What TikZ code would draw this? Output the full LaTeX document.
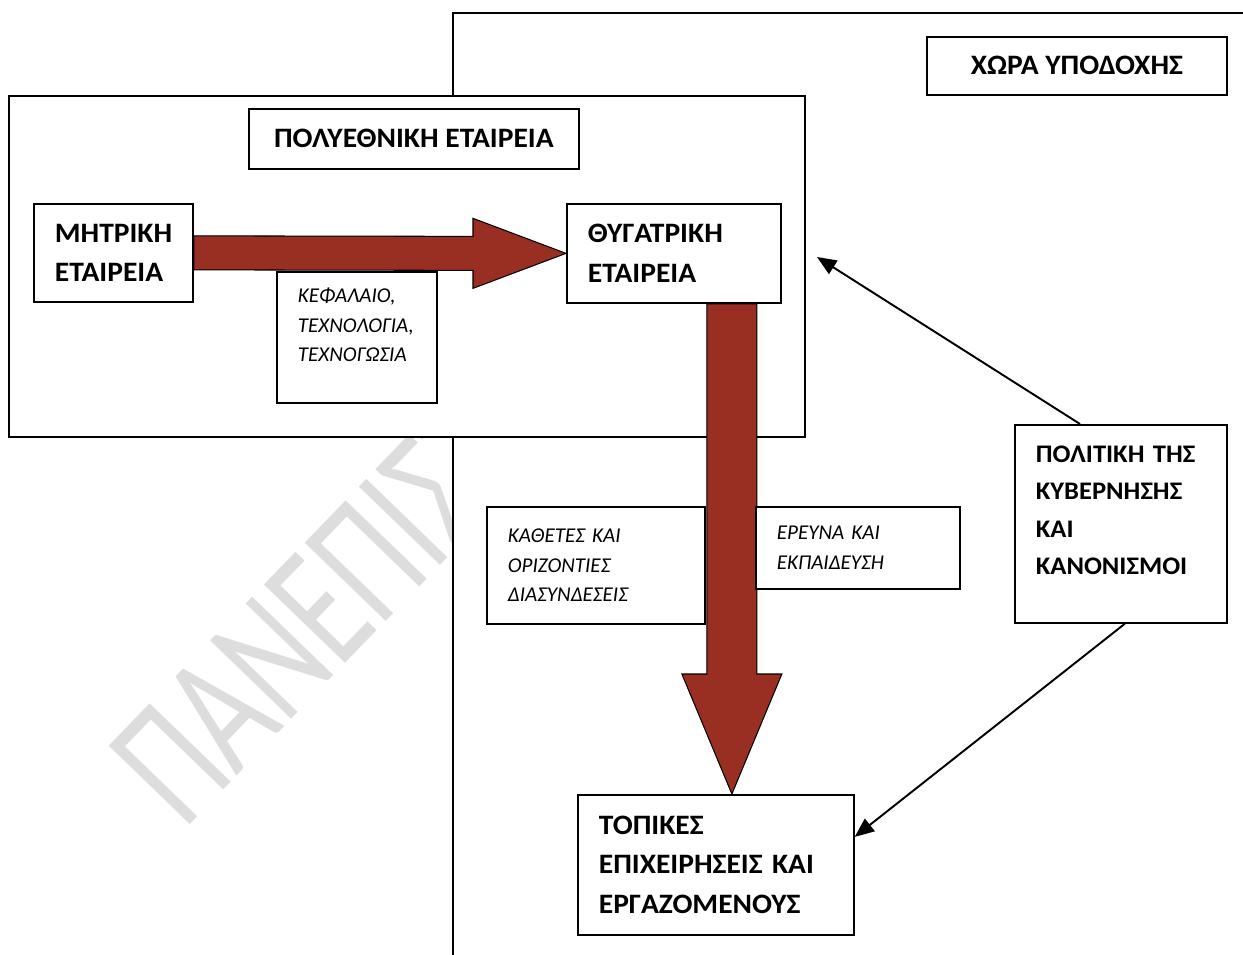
\documentclass[tikz,border=0pt]{standalone}
\usepackage{fontspec}
\setmainfont{Carlito}[BoldFeatures={FakeStretch=1.05}]
\usetikzlibrary{arrows.meta,calc}
\definecolor{arrowred}{RGB}{153,46,34}
\definecolor{watermark}{RGB}{221,221,221}

\begin{document}
\begin{tikzpicture}[
    x=0.02cm, y=-0.02cm,
    frame/.style={draw, line width=1pt, fill=white, anchor=north west, inner sep=0pt},
    box/.style={draw, line width=1pt, fill=white, anchor=north west, inner xsep=0.42cm,
      inner ysep=0pt, font=\bfseries\fontsize{16}{22.6}\selectfont},
    title/.style={box},
    note/.style={box, font=\itshape\fontsize{12}{16.7}\selectfont},
    bigarrow/.style={draw=black, line width=0.6pt, fill=arrowred, line join=miter},
    thinarrow/.style={-{Triangle[length=11pt,width=9pt]}, line width=1.1pt}
  ]
  \useasboundingbox (0,0) rectangle (1243,955);

  % Watermark
  \node[anchor=base west, inner sep=0pt, rotate=46, yscale=1.45, text=watermark,
    font=\fontsize{69}{69}\selectfont] (mark) at (184,831) {ΠΑΝΕΠΙΣΤΗΜΙΟ};

  % Frames
  \node[frame, minimum width=17cm, minimum height=19.5cm] (host) at (452,12) {};
  \node[frame, minimum width=15.92cm, minimum height=6.82cm] (mnc) at (8,95) {};

  % Titles
  \node[title, minimum width=6.6cm, minimum height=1.2cm] (mnctitle) at (248,108) {ΠΟΛΥΕΘΝΙΚΗ ΕΤΑΙΡΕΙΑ};
  \node[title, minimum width=6cm, minimum height=1.16cm] (hosttitle) at (926,36) {ΧΩΡΑ ΥΠΟΔΟΧΗΣ};

  % Companies
  \node[box, text width=2.34cm, minimum height=1.96cm] (parent) at (33,203) {ΜΗΤΡΙΚΗ\\ΕΤΑΙΡΕΙΑ};
  \node[box, text width=3.44cm, minimum height=1.98cm] (daughter) at (566,203) {ΘΥΓΑΤΡΙΚΗ\\ΕΤΑΙΡΕΙΑ};
  \node[box, text width=4.68cm, minimum height=2.8cm] (local) at (577,794) {ΤΟΠΙΚΕΣ\\ΕΠΙΧΕΙΡΗΣΕΙΣ ΚΑΙ\\ΕΡΓΑΖΟΜΕΝΟΥΣ};
  \node[box, text width=3.4cm, text height=0.75cm, text depth=3.21cm,
    font=\bfseries\fontsize{14.4}{21.3}\selectfont] (policy) at (1014,424) {ΠΟΛΙΤΙΚΗ ΤΗΣ\\ΚΥΒΕΡΝΗΣΗΣ\\ΚΑΙ\\ΚΑΝΟΝΙΣΜΟΙ};

  % Flows
  \draw[bigarrow] ($(parent.east)+(0,-17)$) -- ($(daughter.west)+(-93,-17)$)
    -- ($(daughter.west)+(-93,-35)$) -- (daughter.west) -- ($(daughter.west)+(-93,35)$)
    -- ($(daughter.west)+(-93,17)$) -- ($(parent.east)+(0,17)$) -- cycle;
  \coordinate (vs) at ($(daughter.south)+(58,0)$);
  \coordinate (vt) at (vs |- local.north);
  \draw[bigarrow] ($(vs)+(-25,0)$) -- ($(vt)+(-25,-120)$) -- ($(vt)+(-50,-120)$) -- (vt)
    -- ($(vt)+(50,-120)$) -- ($(vt)+(25,-120)$) -- ($(vs)+(25,0)$) -- cycle;

  % Labels on the flows
  \node[note, text width=2.36cm, text height=0.62cm, text depth=2cm] (capital) at (276,271) {ΚΕΦΑΛΑΙΟ,\\ΤΕΧΝΟΛΟΓΙΑ,\\ΤΕΧΝΟΓΩΣΙΑ};
  \node[note, text width=3.52cm, minimum height=2.34cm] (links) at (486,506) {ΚΑΘΕΤΕΣ ΚΑΙ\\ΟΡΙΖΟΝΤΙΕΣ\\ΔΙΑΣΥΝΔΕΣΕΙΣ};
  \node[note, text width=3.24cm, minimum height=1.64cm] (research) at (755,506) {ΕΡΕΥΝΑ ΚΑΙ\\ΕΚΠΑΙΔΕΥΣΗ};

  % Government influence
  \coordinate (govtarget) at (817,257);
  \draw[thinarrow] ($(policy.north west)+(66,0)$) -- (govtarget);
  \draw[thinarrow] ($(policy.south)+(4,0)$) -- ($(local.east)+(0,-28)$);
\end{tikzpicture}
\end{document}
